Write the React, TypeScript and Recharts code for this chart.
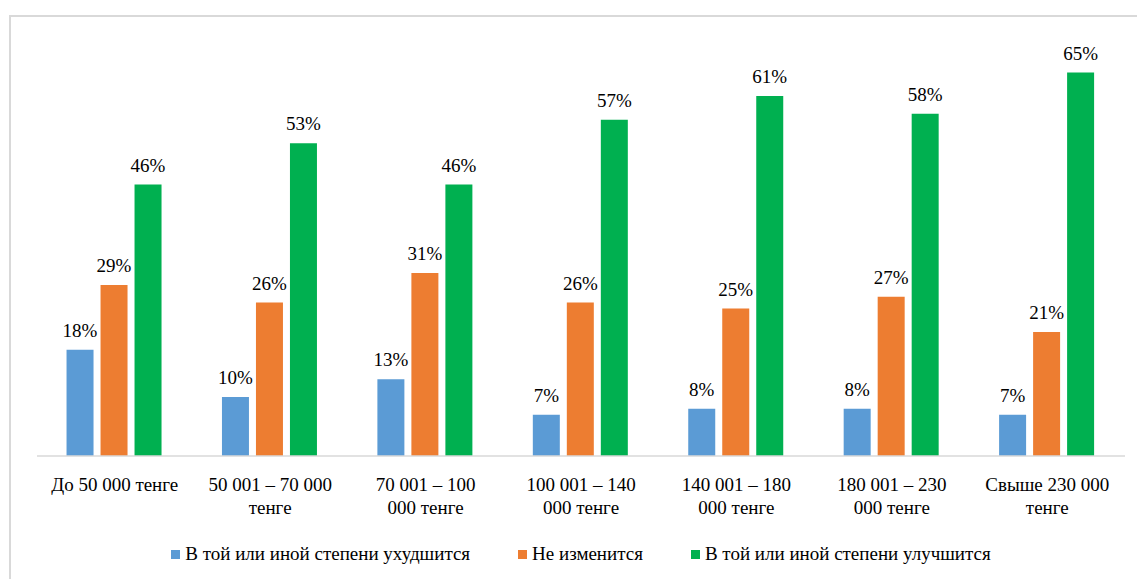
import React from "react";
import { BarChart, Bar, XAxis, YAxis, LabelList, Legend } from "recharts";

const categories = [
  "До 50 000 тенге",
  "50 001 – 70 000\nтенге",
  "70 001 – 100\n000 тенге",
  "100 001 – 140\n000 тенге",
  "140 001 – 180\n000 тенге",
  "180 001 – 230\n000 тенге",
  "Свыше 230 000\nтенге",
];
const worse = [18, 10, 13, 7, 8, 8, 7];
const same = [29, 26, 31, 26, 25, 27, 21];
const better = [46, 53, 46, 57, 61, 58, 65];

const seriesNames = [
  "В той или иной степени ухудшится",
  "Не изменится",
  "В той или иной степени улучшится",
];
const COLORS = ["#5B9BD5", "#ED7D31", "#00B050"];
const FONT = "'Times New Roman', 'Liberation Serif', serif";

const data = categories.map((name, i) => ({
  name,
  worse: worse[i],
  same: same[i],
  better: better[i],
}));

const CategoryTick = (props: any) => {
  const { x, y, payload } = props;
  const lines = String(payload.value).split("\n");
  return (
    <g transform={`translate(${x},${y})`}>
      {lines.map((line, i) => (
        <text
          key={i}
          x={0}
          y={i * 23}
          dy={27}
          textAnchor="middle"
          fontFamily={FONT}
          fontSize={19}
          fill="#000"
        >
          {line}
        </text>
      ))}
    </g>
  );
};

const LegendContent = () => (
  <div
    style={{
      display: "flex",
      justifyContent: "center",
      gap: 48,
      fontFamily: FONT,
      fontSize: 19,
      color: "#000",
    }}
  >
    {seriesNames.map((n, i) => (
      <span key={n} style={{ display: "flex", alignItems: "center" }}>
        <span
          style={{
            width: 9,
            height: 9,
            background: COLORS[i],
            marginRight: 5,
            display: "inline-block",
          }}
        />
        {n}
      </span>
    ))}
  </div>
);

// value label above each bar
const BarLabel = (props: any) => {
  const { x, y, width, value } = props;
  return (
    <text
      x={x + width / 2}
      y={y - 13}
      textAnchor="middle"
      fontFamily={FONT}
      fontSize={19}
      fill="#000"
    >
      {`${value}%`}
    </text>
  );
};

export default function App() {
  return (
    <div style={{ position: "absolute", left: 0, top: 0, width: 1137, height: 579, overflow: "hidden", background: "#fff", fontFamily: FONT }}>
      <div
        style={{
          position: "absolute",
          left: 9,
          top: 15,
          width: 1200,
          height: 700,
          borderLeft: "2px solid #d9d9d9",
          borderTop: "2px solid #d9d9d9",
        }}
      />
      <BarChart
        width={1137}
        height={579}
        data={data}
        margin={{ top: 43, right: 12, left: 37, bottom: 14 }}
        barCategoryGap="19%"
        barGap={7}
        style={{ position: "absolute", left: 0, top: 0 }}
      >
        <XAxis
          dataKey="name"
          interval={0}
          tickLine={false}
          axisLine={{ stroke: "#d9d9d9", strokeWidth: 1.5 }}
          tick={<CategoryTick />}
          height={87}
        />
        <YAxis hide domain={[0, 70]} />
        <Legend verticalAlign="bottom" content={<LegendContent />} />
        {(["worse", "same", "better"] as const).map((k, i) => (
          <Bar key={k} dataKey={k} name={seriesNames[i]} fill={COLORS[i]} isAnimationActive={false}>
            <LabelList dataKey={k} content={<BarLabel />} />
          </Bar>
        ))}
      </BarChart>
    </div>
  );
}
